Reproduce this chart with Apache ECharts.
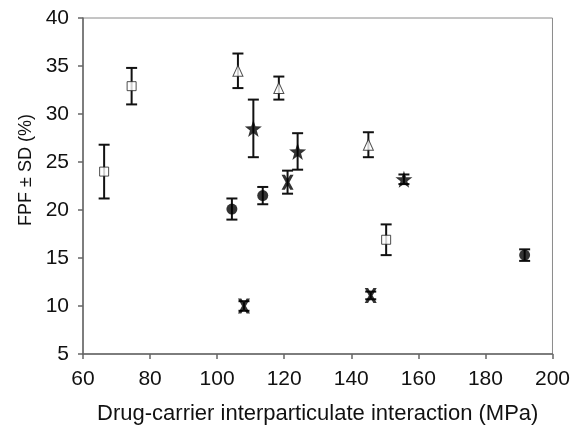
<!DOCTYPE html>
<html>
<head>
<meta charset="utf-8">
<script src="https://cdn.jsdelivr.net/npm/echarts@6/dist/echarts.min.js"></script>
<style>html,body{margin:0;padding:0;background:#fff}#c{width:573px;height:430px}</style>
</head>
<body>
<div id="c"></div>
<script>
// Open squares
var squareX = [66.3, 74.5, 150.4];
var squareY = [24.0, 32.9, 16.9];
var squareErr = [2.8, 1.9, 1.6];
// Open triangles
var triX = [106.2, 118.4, 145.1];
var triY = [34.5, 32.7, 26.8];
var triErr = [1.8, 1.2, 1.3];
// Filled stars
var starX = [110.8, 124.0, 155.7];
var starY = [28.5, 26.1, 23.2];
var starErr = [3.0, 1.9, 0.5];
// Filled circles
var circleX = [104.4, 113.6, 191.7];
var circleY = [20.1, 21.5, 15.3];
var circleErr = [1.1, 0.9, 0.6];
// Crosses
var crossX = [121.0, 108.0, 145.8];
var crossY = [22.9, 10.0, 11.1];
var crossErr = [1.2, 0.5, 0.4];

var xTicks = [60, 80, 100, 120, 140, 160, 180, 200];
var yTicks = [5, 10, 15, 20, 25, 30, 35, 40];

var font = 'Liberation Sans, Arial, sans-serif';
var STAR = 'path://M0,-10 L2.35,-3.24 L9.51,-3.09 L3.8,1.24 L5.88,8.09 L0,4 L-5.88,8.09 L-3.8,1.24 L-9.51,-3.09 L-2.35,-3.24 Z';
var CROSS = 'path://M-5,-7 L-2.2,-7 L0,-2.6 L2.2,-7 L5,-7 L1.6,0 L5,7 L2.2,7 L0,2.6 L-2.2,7 L-5,7 L-1.6,0 Z';

function pts(xs, ys) { return xs.map(function (x, i) { return [x, ys[i]]; }); }
function errData(xs, ys, es) { return xs.map(function (x, i) { return [x, ys[i] - es[i], ys[i] + es[i]]; }); }

var allErr = [].concat(
  errData(squareX, squareY, squareErr),
  errData(triX, triY, triErr),
  errData(starX, starY, starErr),
  errData(circleX, circleY, circleErr),
  errData(crossX, crossY, crossErr)
);

var chart = echarts.init(document.getElementById('c'));
chart.setOption({
  animation: false,
  backgroundColor: '#fff',
  grid: { left: 83, top: 18, right: 19, bottom: 74, show: true, borderColor: '#8a8a8a', borderWidth: 1, backgroundColor: 'transparent' },
  xAxis: {
    type: 'value', min: xTicks[0], max: xTicks[xTicks.length - 1], interval: 20,
    name: 'Drug-carrier interparticulate interaction (MPa)', nameLocation: 'middle', nameGap: 49,
    nameTextStyle: { fontFamily: font, fontSize: 22, color: '#111' },
    axisLine: { lineStyle: { color: '#666', width: 1.5 } },
    axisTick: { show: true, inside: false, length: 5, lineStyle: { color: '#666', width: 1.5 } },
    axisLabel: { fontFamily: font, fontSize: 21, color: '#111', margin: 15 },
    splitLine: { show: false }
  },
  yAxis: {
    type: 'value', min: yTicks[0], max: yTicks[yTicks.length - 1], interval: 5,
    name: 'FPF \u00b1 SD (%)', nameLocation: 'middle', nameGap: 48, nameRotate: 90,
    nameTextStyle: { fontFamily: font, fontSize: 18, color: '#111', padding: [0, 0, 0, 32] },
    axisLine: { show: true, lineStyle: { color: '#666', width: 1.5 } },
    axisTick: { show: true, inside: false, length: 5, lineStyle: { color: '#666', width: 1.5 } },
    axisLabel: { fontFamily: font, fontSize: 21, color: '#111', margin: 14 },
    splitLine: { show: false }
  },
  series: [
    {
      type: 'custom', z: 1,
      data: allErr,
      renderItem: function (params, api) {
        var x = api.value(0), lo = api.value(1), hi = api.value(2);
        var pLo = api.coord([x, lo]), pHi = api.coord([x, hi]);
        var w = 5.5;
        var st = { stroke: '#111', lineWidth: 2 };
        return {
          type: 'group',
          children: [
            { type: 'line', shape: { x1: pLo[0], y1: pLo[1], x2: pHi[0], y2: pHi[1] }, style: st },
            { type: 'line', shape: { x1: pLo[0] - w, y1: pLo[1], x2: pLo[0] + w, y2: pLo[1] }, style: st },
            { type: 'line', shape: { x1: pHi[0] - w, y1: pHi[1], x2: pHi[0] + w, y2: pHi[1] }, style: st }
          ]
        };
      }
    },
    { type: 'scatter', z: 3, data: pts(squareX, squareY), symbol: 'rect', symbolSize: 9,
      itemStyle: { color: '#fff', borderColor: '#222', borderWidth: 1 } },
    { type: 'scatter', z: 3, data: pts(triX, triY), symbol: 'triangle', symbolSize: [10, 11],
      itemStyle: { color: '#fff', borderColor: '#222', borderWidth: 1 } },
    { type: 'scatter', z: 3, data: pts(starX, starY), symbol: STAR, symbolSize: 17,
      itemStyle: { color: '#000' } },
    { type: 'scatter', z: 3, data: pts(circleX, circleY), symbol: 'circle', symbolSize: 11,
      itemStyle: { color: '#000' } },
    { type: 'scatter', z: 3, data: pts(crossX, crossY), symbol: CROSS, symbolSize: [12, 15],
      itemStyle: { color: '#000' } }
  ]
});
</script>
</body>
</html>
